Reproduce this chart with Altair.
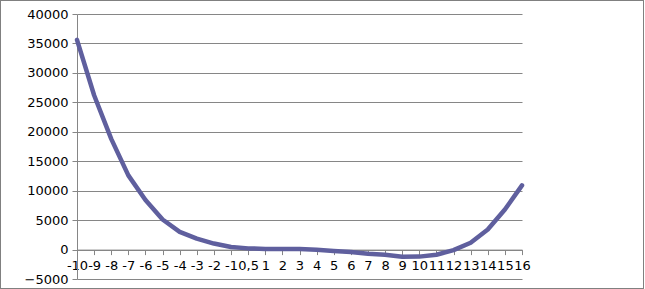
import altair as alt
import pandas as pd

categories = ["-10", "-9", "-8", "-7", "-6", "-5", "-4", "-3", "-2", "-1", "0,5",
              "1", "2", "3", "4", "5", "6", "7", "8", "9", "10", "11", "12", "13",
              "14", "15", "16"]
values = [35600, 26200, 18800, 12600, 8400, 5100, 3000, 1850, 1020, 440, 200,
          110, 110, 100, -50, -230, -400, -700, -900, -1230, -1200, -880, -100,
          1150, 3400, 6800, 10900]

df = pd.DataFrame({"cat": categories, "val": values})

GRAY = "#868686"
FONT = "DejaVu Sans"

line = alt.Chart(df).mark_line(color="#5f5f9e", strokeWidth=4.5, strokeJoin="round", strokeCap="round").encode(
    x=alt.X("cat:N", sort=categories, title=None,
            scale=alt.Scale(type="point", padding=0),
            axis=alt.Axis(labelAngle=0, labelOverlap=False, offset=-29.4,
                          domainColor=GRAY, tickColor=GRAY, tickSize=5,
                          labelPadding=5, labelFont=FONT, labelFontSize=13,
                          labelColor="#000000", grid=False)),
    y=alt.Y("val:Q", title=None,
            scale=alt.Scale(domain=[-5000, 40000], nice=False, zero=False),
            axis=alt.Axis(values=list(range(-5000, 40001, 5000)), format="d",
                          domainColor=GRAY, tickColor=GRAY, tickSize=5,
                          gridColor=GRAY, gridWidth=1, labelPadding=4,
                          labelFont=FONT, labelFontSize=13, labelColor="#000000"))
)

border = alt.Chart(df).mark_rect(fill="transparent", stroke="#808080", strokeWidth=1).encode(
    x=alt.value(-76.5), x2=alt.value(566.5), y=alt.value(-13.5), y2=alt.value(274.5)
)

chart = alt.layer(border, line).properties(
    width=445, height=265,
    padding={"left": 77, "top": 14, "right": 123, "bottom": 10},
    autosize=alt.AutoSizeParams(type="none"),
    background="#ffffff",
).configure_view(strokeWidth=0)

chart.save("out.html", embed_options={"renderer": "svg", "actions": False})
